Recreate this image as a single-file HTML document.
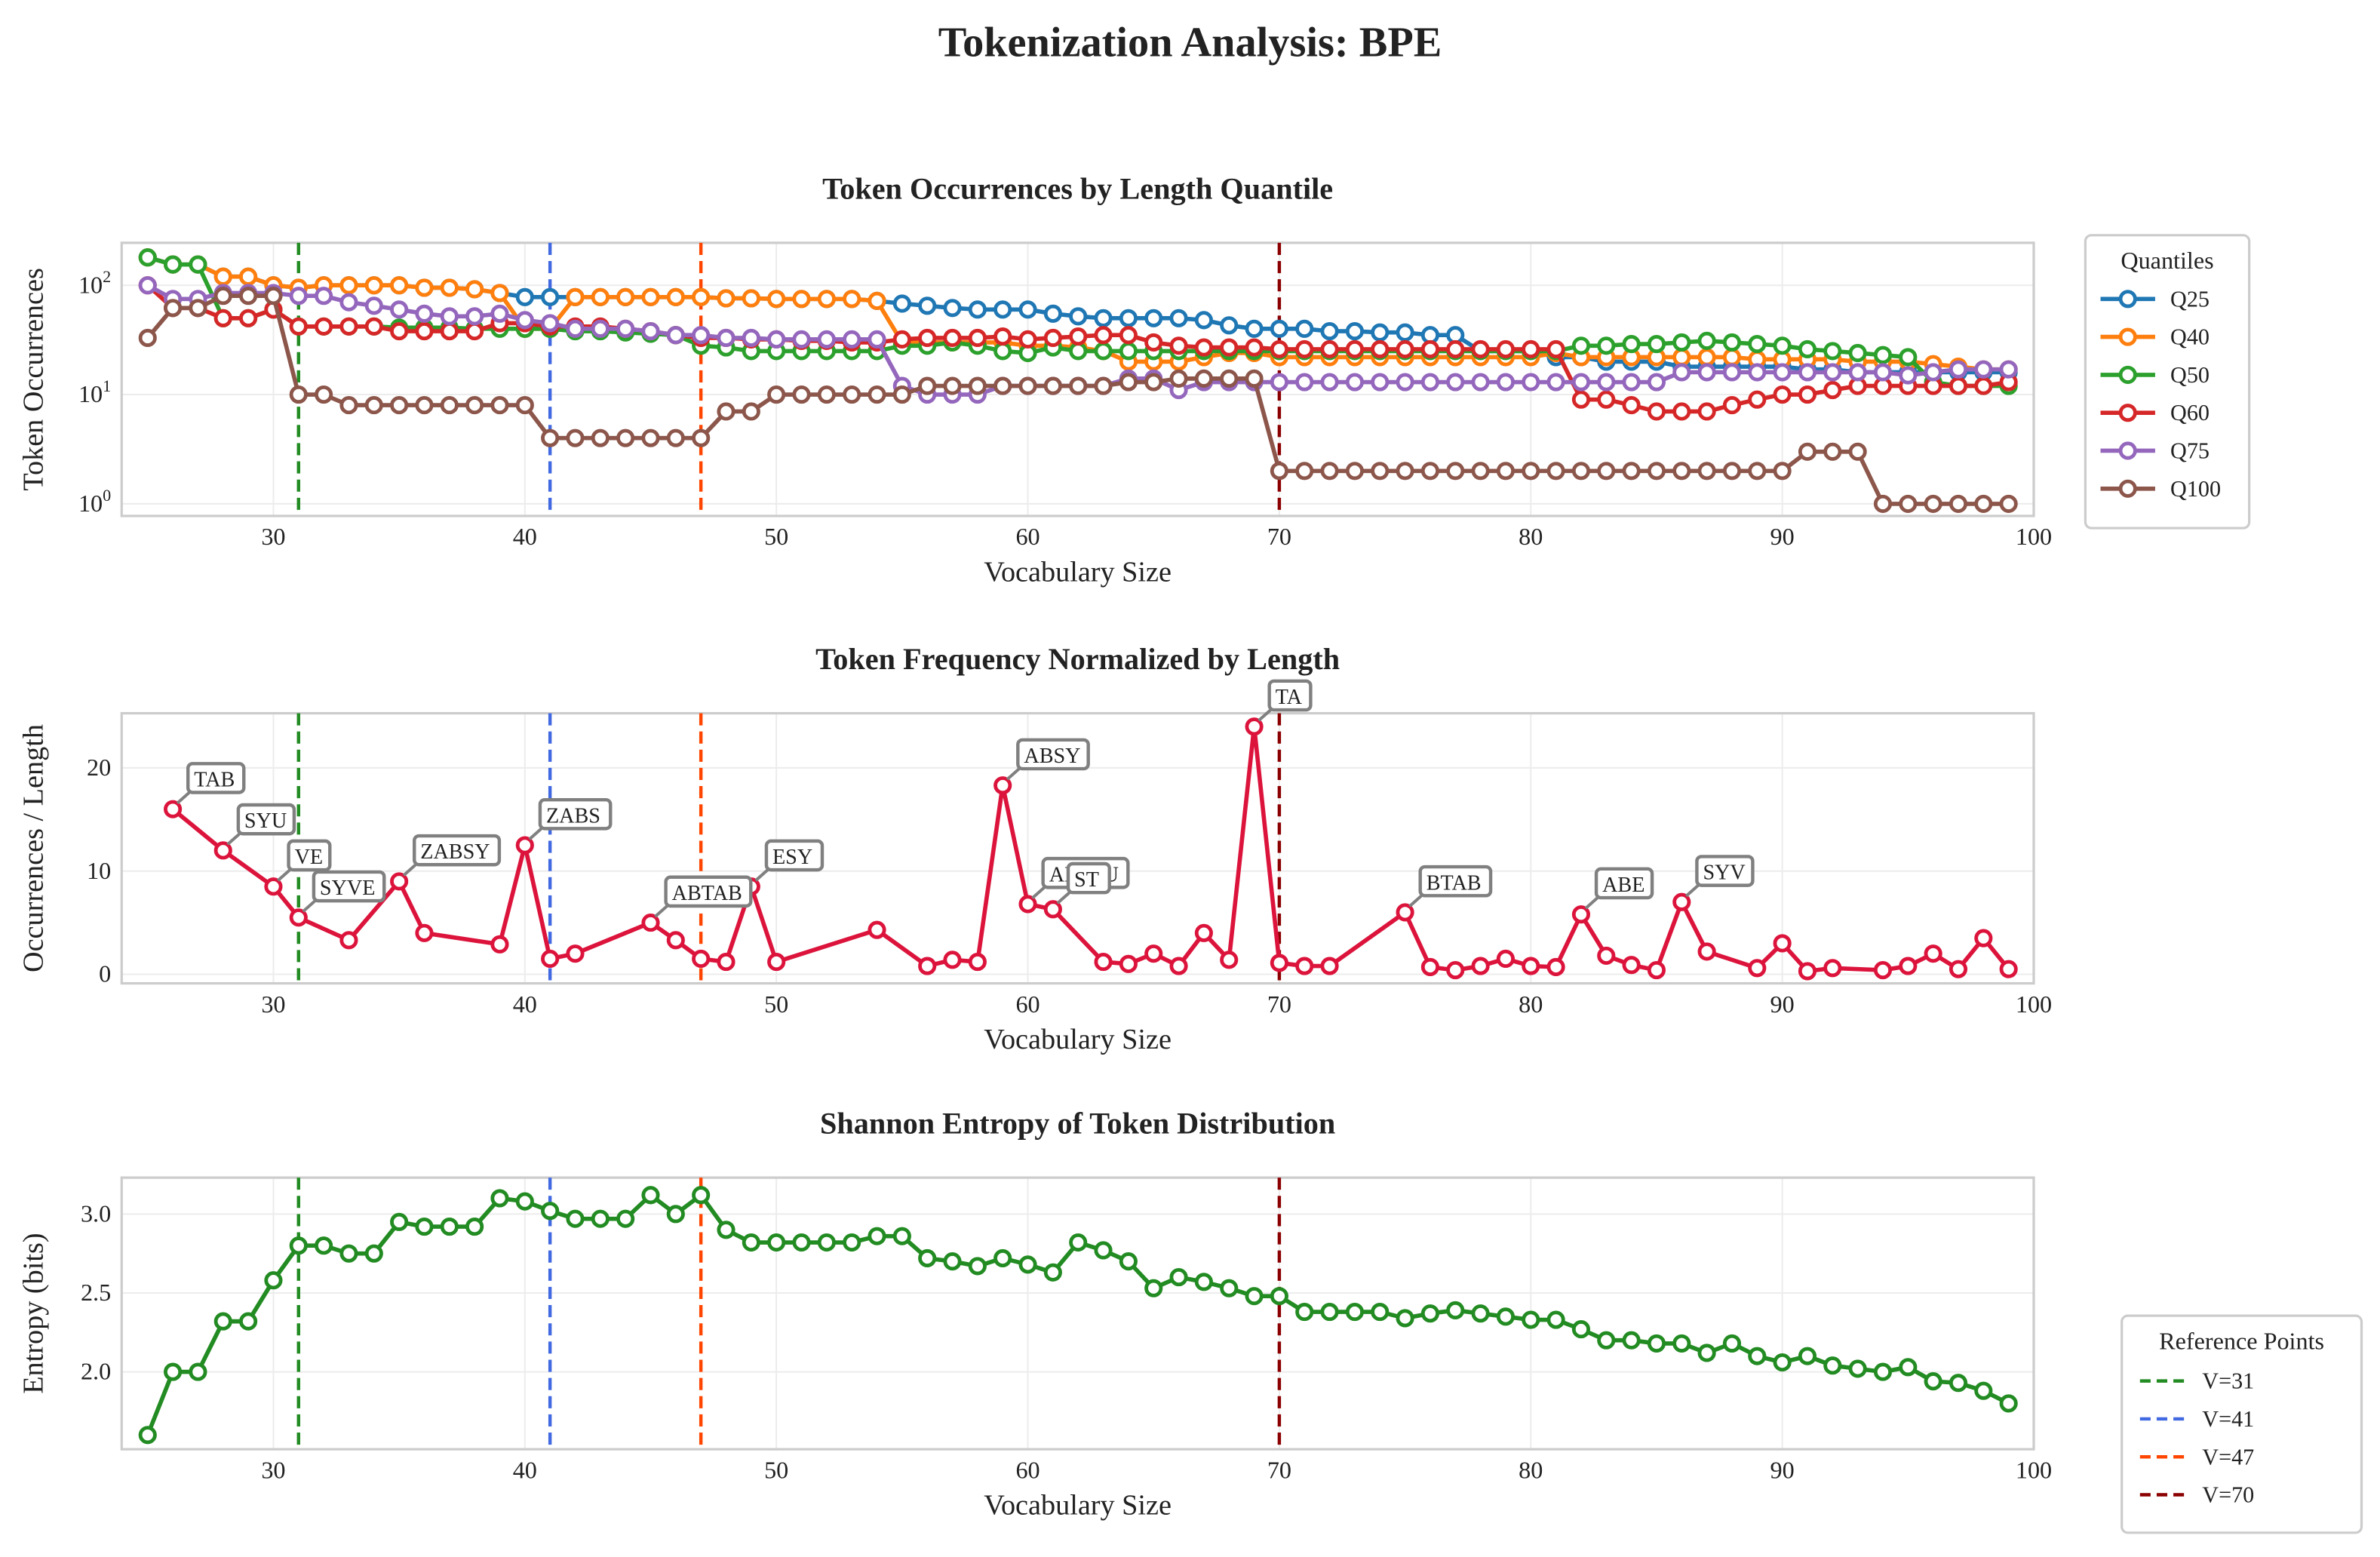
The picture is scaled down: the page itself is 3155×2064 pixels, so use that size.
<!DOCTYPE html>
<html><head><meta charset="utf-8"><style>
html,body{margin:0;padding:0;background:#fff}
svg{display:block}
text{font-family:"Liberation Serif",serif;fill:#222}
</style></head><body>
<svg id="fig" width="3155" height="2064" viewBox="0 0 1568 1026" xmlns="http://www.w3.org/2000/svg">
<text x="784" y="37" text-anchor="middle" font-size="28" font-weight="bold">Tokenization Analysis: BPE</text>
<g id="g1"></g>
<g id="g2"></g>
<g id="g3"></g>
<g id="leg"></g>
</svg>
<script>
const xsAll = [];for(let v=25;v<=99;v++)xsAll.push(v);
const seriesNames = ["Q25","Q40","Q50","Q60","Q75","Q100"];
const seriesColors = ["#1f77b4","#ff7f0e","#2ca02c","#d62728","#9467bd","#8c564b"];
const q25 = [180,155,155,120,120,100,95,100,100,100,100,95,95,92,85,78,78,78,78,78,78,78,78,76,76,75,75,75,75,72,68,65,62,60,60,60,55,52,50,50,50,50,48,43,40,40,40,38,38,37,37,35,35,25,25,25,22,22,20,20,20,18,18,18,18,18,17,17,16,16,16,16,16,16,16];
const q40 = [180,155,155,120,120,100,95,100,100,100,100,95,95,92,85,40,40,78,78,78,78,78,78,76,76,75,75,75,75,72,30,30,30,30,30,28,28,27,25,20,20,20,22,24,24,22,22,22,22,22,22,22,22,22,22,22,24,22,22,22,22,22,22,22,21,21,21,21,20,20,20,19,18,17,17];
const q50 = [180,155,155,50,50,60,42,42,42,42,41,41,41,40,40,40,40,38,38,37,36,35,28,27,25,25,25,25,25,25,28,28,30,28,25,24,27,25,25,25,25,25,25,25,25,25,25,25,25,25,25,25,25,25,25,25,25,28,28,29,29,30,31,30,29,28,26,25,24,23,22,13,12,12,12];
const q60 = [100,62,62,50,50,60,42,42,42,42,38,38,38,38,45,45,42,42,42,40,38,35,33,33,32,32,31,31,30,30,32,33,33,33,34,32,33,34,35,35,30,28,27,27,27,26,26,26,26,26,26,26,26,26,26,26,26,9,9,8,7,7,7,8,9,10,10,11,12,12,12,12,12,12,13];
const q75 = [100,75,75,85,85,85,80,80,70,65,60,55,52,52,55,48,45,40,40,40,38,35,35,33,33,32,32,32,32,32,12,10,10,10,12,12,12,12,12,14,14,11,13,13,13,13,13,13,13,13,13,13,13,13,13,13,13,13,13,13,13,16,16,16,16,16,16,16,16,16,15,16,17,17,17];
const q100 = [33,62,62,80,80,80,10,10,8,8,8,8,8,8,8,8,4,4,4,4,4,4,4,7,7,10,10,10,10,10,10,12,12,12,12,12,12,12,12,13,13,14,14,14,14,2,2,2,2,2,2,2,2,2,2,2,2,2,2,2,2,2,2,2,2,2,3,3,3,1,1,1,1,1,1];
const normX = [26,28,30,31,33,35,36,39,40,41,42,45,46,47,48,49,50,54,56,57,58,59,60,61,63,64,65,66,67,68,69,70,71,72,75,76,77,78,79,80,81,82,83,84,85,86,87,89,90,91,92,94,95,96,97,98,99];
const normY = [16,12,8.5,5.5,3.3,9,4,2.9,12.5,1.5,2,5,3.3,1.5,1.2,8.5,1.2,4.3,0.8,1.4,1.2,18.3,6.8,6.3,1.2,1,2,0.8,4,1.4,24,1.1,0.8,0.8,6,0.7,0.4,0.8,1.5,0.8,0.7,5.8,1.8,0.9,0.4,7,2.2,0.6,3,0.3,0.6,0.4,0.8,2,0.5,3.5,0.5];
const annX = [26,28,30,31,35,40,45,49,59,60,61,69,75,82,86];
const annText = ["TAB","SYU","VE","SYVE","ZABSY","ZABS","ABTAB","ESY","ABSY","ABSTU","ST","TA","BTAB","ABE","SYV"];
const entropy = [1.6,2.0,2.0,2.32,2.32,2.58,2.8,2.8,2.75,2.75,2.95,2.92,2.92,2.92,3.1,3.08,3.02,2.97,2.97,2.97,3.12,3.0,3.12,2.9,2.82,2.82,2.82,2.82,2.82,2.86,2.86,2.72,2.7,2.67,2.72,2.68,2.63,2.82,2.77,2.7,2.53,2.6,2.57,2.53,2.48,2.48,2.38,2.38,2.38,2.38,2.34,2.37,2.39,2.37,2.35,2.33,2.33,2.27,2.2,2.2,2.18,2.18,2.12,2.18,2.1,2.06,2.1,2.04,2.02,2.0,2.03,1.94,1.93,1.88,1.8];
const refX = [31,41,47,70];
const refColors = ["#228B22","#4169E1","#FF4500","#8B0000"];
const xTicks = [30,40,50,60,70,80,90,100];

const NS="http://www.w3.org/2000/svg";
function mk(parent,tag,attrs,txt){const e=document.createElementNS(NS,tag);for(const k in attrs)e.setAttribute(k,attrs[k]);if(txt!==undefined)e.textContent=txt;parent.appendChild(e);return e;}
const L=80,R=1340;
const sx=v=>180+(v-30)*(R-180)/70;

function frame(g,top,bot,title,ylab,yTicks,sy,tickFmt){
  for(const t of xTicks){mk(g,'line',{x1:sx(t),x2:sx(t),y1:top,y2:bot,stroke:'#ececec','stroke-width':1});}
  for(const t of yTicks){const y=sy(t);mk(g,'line',{x1:L,x2:R,y1:y,y2:y,stroke:'#ececec','stroke-width':1});}
  const b=mk(g,'rect',{x:L,y:top,width:R-L,height:bot-top,fill:'none',stroke:'#cccccc','stroke-width':1.6});
  
  
  for(const t of xTicks){const e=mk(g,'text',{x:sx(t),y:bot+19,'text-anchor':'middle','font-size':16},String(t));
    
    }
  for(const t of yTicks){const e=mk(g,'text',{x:L-7,y:sy(t)+5,'text-anchor':'end','font-size':16});tickFmt(e,t);
    
    }
  const xt=mk(g,'text',{x:(L+R)/2,y:bot+43,'text-anchor':'middle','font-size':19},'Vocabulary Size');
  
  
  const yt=mk(g,'text',{x:0,y:0,'text-anchor':'middle','font-size':19,transform:`translate(28,${(top+bot)/2}) rotate(-90)`},ylab);
  
  
  const tt=mk(g,'text',{x:(L+R)/2,y:top-29,'text-anchor':'middle','font-size':20,'font-weight':'bold'},title);
  
  
  for(let i=0;i<refX.length;i++){const l=mk(g,'line',{x1:sx(refX[i]),x2:sx(refX[i]),y1:top,y2:bot,stroke:refColors[i],'stroke-width':2.2,'stroke-dasharray':'8,4'});
    
    }
}
function series(g,xs,ys,sy,color,name){
  const gg=mk(g,'g',{});
  
  
  mk(gg,'polyline',{points:xs.map((x,i)=>sx(x)+','+sy(ys[i])).join(' '),fill:'none',stroke:color,'stroke-width':2.8,'stroke-linejoin':'round'});
  xs.forEach((x,i)=>{const c=mk(gg,'circle',{cx:sx(x),cy:sy(ys[i]),r:4.8,fill:'#fff',stroke:color,'stroke-width':2.4});
    
    });
}
// Panel 1
const g1=document.getElementById('g1');
const sy1=v=>332-72*Math.log10(v);
frame(g1,160,340,'Token Occurrences by Length Quantile','Token Occurrences',[1,10,100],sy1,(e,t)=>{e.textContent='10';const s=mk(e,'tspan',{dy:-7,'font-size':11},String(Math.round(Math.log10(t))));});
[q25,q40,q50,q60,q75,q100].forEach((d,i)=>series(g1,xsAll,d,sy1,seriesColors[i],'series-'+seriesNames[i].toLowerCase()));
// Panel 2
const g2=document.getElementById('g2');
const sy2=v=>642-6.8*v;
frame(g2,470,648,'Token Frequency Normalized by Length','Occurrences / Length',[0,10,20],sy2,(e,t)=>{e.textContent=String(t);});
series(g2,normX,normY,sy2,'#DC143C','normalized-frequency-line');
annX.forEach((x,i)=>{const y=normY[normX.indexOf(x)];const px=sx(x),py=sy2(y);
  const ag=mk(g2,'g',{});
  
  
  const w=annText[i].length*9.6+8;
  mk(ag,'path',{d:`M${px+3},${py-4} L${px+12},${py-12} L${px+19},${py-12}`,fill:'none',stroke:'#808080','stroke-width':2});
  mk(ag,'rect',{x:px+10,y:py-30,width:w,height:19,rx:3,fill:'#fff',stroke:'#808080','stroke-width':2.2});
  mk(ag,'text',{x:px+14,y:py-15,'font-size':14},annText[i]);
});
// Panel 3
const g3=document.getElementById('g3');
const sy3=v=>800-104*(v-3.0);
frame(g3,776,955,'Shannon Entropy of Token Distribution','Entropy (bits)',[2.0,2.5,3.0],sy3,(e,t)=>{e.textContent=t.toFixed(1);});
series(g3,xsAll,entropy,sy3,'#228B22','entropy-line');
// Legends
const leg=document.getElementById('leg');
const l1=mk(leg,'g',{});


mk(l1,'rect',{x:1374,y:155,width:108,height:193,rx:4,fill:'#fff',stroke:'#cccccc','stroke-width':1.6});
mk(l1,'text',{x:1428,y:177,'text-anchor':'middle','font-size':16},'Quantiles');
seriesNames.forEach((n,i)=>{const y=197+25*i;const e=mk(l1,'g',{});
  
  
  mk(e,'line',{x1:1384,x2:1420,y1:y,y2:y,stroke:seriesColors[i],'stroke-width':2.8});
  mk(e,'circle',{cx:1402,cy:y,r:4.8,fill:'#fff',stroke:seriesColors[i],'stroke-width':2.4});
  mk(e,'text',{x:1430,y:y+5,'font-size':15},n);});
const l2=mk(leg,'g',{});


mk(l2,'rect',{x:1398,y:867,width:158,height:143,rx:4,fill:'#fff',stroke:'#cccccc','stroke-width':1.6});
mk(l2,'text',{x:1477,y:889,'text-anchor':'middle','font-size':16},'Reference Points');
refX.forEach((v,i)=>{const y=910+25*i;const e=mk(l2,'g',{});
  
  
  mk(e,'line',{x1:1410,x2:1442,y1:y,y2:y,stroke:refColors[i],'stroke-width':2.2,'stroke-dasharray':'7,4'});
  mk(e,'text',{x:1451,y:y+5,'font-size':15},'V='+v);});
</script>
</body></html>
